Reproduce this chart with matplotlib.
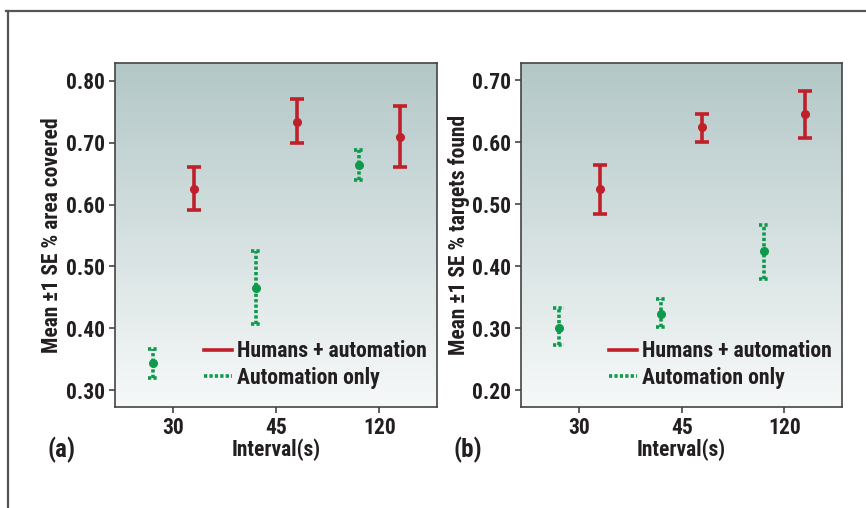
import matplotlib
matplotlib.use("Agg")
import matplotlib.pyplot as plt
import numpy as np
from matplotlib.lines import Line2D
from matplotlib.colors import LinearSegmentedColormap

plt.rcParams['font.family'] = ['Roboto Condensed', 'Barlow Semi Condensed', 'DejaVu Sans']
plt.rcParams['font.weight'] = 'bold'
plt.rcParams['axes.labelweight'] = 'bold'

categories = ["30", "45", "120"]
series = ["Humans + automation", "Automation only"]

# Panel (a): % area covered
a_human_mean = [0.625, 0.734, 0.710]
a_human_low = [0.591, 0.700, 0.660]
a_human_high = [0.661, 0.770, 0.760]
a_auto_mean = [0.343, 0.465, 0.664]
a_auto_low = [0.319, 0.406, 0.639]
a_auto_high = [0.366, 0.525, 0.689]

# Panel (b): % targets found
b_human_mean = [0.524, 0.624, 0.646]
b_human_low = [0.484, 0.601, 0.607]
b_human_high = [0.564, 0.646, 0.683]
b_auto_mean = [0.301, 0.323, 0.424]
b_auto_low = [0.273, 0.302, 0.380]
b_auto_high = [0.332, 0.348, 0.467]

a_ticks = [0.30, 0.40, 0.50, 0.60, 0.70, 0.80]
b_ticks = [0.20, 0.30, 0.40, 0.50, 0.60, 0.70]

RED = "#c0202a"
GREEN = "#0e9a4c"
TXT = "#231f20"
DOT = (0, (0.9, 0.6))

fig = plt.figure(figsize=(8.66, 5.08), dpi=100)
W, H = 866, 508

def axes_px(l, t, r, b):
    return fig.add_axes([l / W, 1 - b / H, (r - l) / W, (b - t) / H])

ax_a = axes_px(115, 63, 437, 407)
ax_b = axes_px(521, 63, 842, 407)

grad = np.linspace(0, 1, 256).reshape(-1, 1)
cmap = LinearSegmentedColormap.from_list("bg", ["#b3c7c7", "#f7f9f9"])

def draw(ax, hm, hl, hh, am, al, ah, ticks, ylim, ylabel, tag, leg_x):
    x = np.arange(len(categories))
    ax.imshow(grad, aspect='auto', cmap=cmap, extent=[0, 1, 0, 1], origin='upper',
              transform=ax.transAxes, zorder=0)
    hm = np.array(hm); am = np.array(am)
    e_h = [hm - np.array(hl), np.array(hh) - hm]
    e_a = [am - np.array(al), np.array(ah) - am]
    ax.errorbar(x + 0.2, hm, yerr=e_h, fmt='o', color=RED, ms=5.5,
                elinewidth=2.6, capsize=5, capthick=2.6, zorder=3)
    c2 = ax.errorbar(x - 0.2, am, yerr=e_a, fmt='o', color=GREEN, ms=5.5,
                     elinewidth=2.6, capsize=0, zorder=3)
    for bar in c2[2]:
        bar.set_linestyle(DOT)
    cw = 0.05
    ax.hlines(list(al) + list(ah), np.r_[x, x] - 0.2 - cw, np.r_[x, x] - 0.2 + cw,
              colors=GREEN, linewidth=2.6, linestyles=[DOT], zorder=3)
    ax.set_xlim(-0.566, 2.56)
    ax.set_ylim(*ylim)
    ax.set_xticks(x)
    ax.set_xticklabels(categories)
    ax.set_yticks(ticks)
    ax.set_yticklabels([f"{t:.2f}" for t in ticks])
    ax.tick_params(direction='out', length=4, width=1.2, color="#444444",
                   labelsize=15.5, labelcolor=TXT, pad=3)
    for lab in ax.get_xticklabels() + ax.get_yticklabels():
        lab.set_fontweight('bold')
    for s in ax.spines.values():
        s.set_color("#444444")
        s.set_linewidth(1.2)
    ax.set_ylabel(ylabel, fontsize=15.5, color=TXT, labelpad=2, fontweight='bold')
    ax.set_xlabel("Interval(s)", fontsize=15.5, color=TXT, labelpad=0, fontweight='bold')
    handles = [Line2D([], [], color=RED, lw=2.6),
               Line2D([], [], color=GREEN, lw=2.6, ls=DOT)]
    leg = ax.legend(handles, series, loc='center left', frameon=False, fontsize=15.7,
                    handlelength=1.3, handletextpad=0.22, labelspacing=0.2,
                    borderpad=0, borderaxespad=0, bbox_to_anchor=(leg_x, 0.1235))
    for t in leg.get_texts():
        t.set_color(TXT)
        t.set_fontweight('bold')
    ax.text(-0.211, -0.125, tag, transform=ax.transAxes, fontsize=18,
            fontweight='bold', color=TXT, ha='left', va='center')

draw(ax_a, a_human_mean, a_human_low, a_human_high, a_auto_mean, a_auto_low,
     a_auto_high, a_ticks, (0.2725, 0.829), "Mean \u00b11 SE % area covered", "(a)", 0.276)
draw(ax_b, b_human_mean, b_human_low, b_human_high, b_auto_mean, b_auto_low,
     b_auto_high, b_ticks, (0.173, 0.728), "Mean \u00b11 SE % targets found", "(b)", 0.274)

# outer frame lines
fig.add_artist(Line2D([6 / W, 1], [1 - 11 / H, 1 - 11 / H], color="#555555", lw=1.6,
                      transform=fig.transFigure))
fig.add_artist(Line2D([8 / W, 8 / W], [1 - 11 / H, 0], color="#555555", lw=1.6,
                      transform=fig.transFigure))

fig.savefig("out.png", dpi=100)
